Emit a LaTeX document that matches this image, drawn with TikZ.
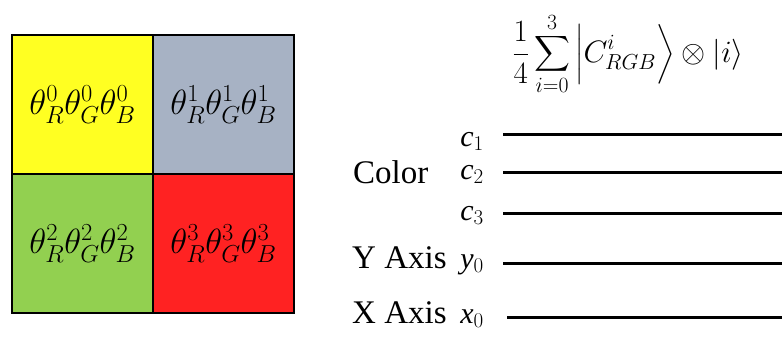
\RequirePackage{fix-cm}
\documentclass[tikz,border=0pt]{standalone}
\usepackage{fontspec}
\setmainfont{Liberation Serif}
\usepackage{amsmath}
\usetikzlibrary{positioning}
\definecolor{cellyellow}{RGB}{255,255,34}
\definecolor{cellgray}{RGB}{167,178,196}
\definecolor{cellgreen}{RGB}{146,208,80}
\definecolor{cellred}{RGB}{255,34,34}

\begin{document}
\begin{tikzpicture}[x=1pt,y=-1pt,
  cell/.style={draw=black,line width=1.6pt,outer sep=0pt,inner sep=0pt,
    minimum width=141pt,minimum height=139pt,font=\fontsize{35}{40}\selectfont},
  wire/.style={line width=3pt},
  qlbl/.style={anchor=base east,inner sep=0pt,font=\fontsize{30}{34}\selectfont},
  reglbl/.style={anchor=base west,inner sep=0pt,font=\fontsize{33}{40}\selectfont}]
\useasboundingbox (0,0) rectangle (782,338);
% colour grid
\node[cell,fill=cellyellow,anchor=north west] (q0) at (12,35) {$\theta_R^0\theta_G^0\theta_B^0$};
\node[cell,fill=cellgray,right=0pt of q0] (q1) {$\theta_R^1\theta_G^1\theta_B^1$};
\node[cell,fill=cellgreen,below=0pt of q0] (q2) {$\theta_R^2\theta_G^2\theta_B^2$};
\node[cell,fill=cellred,below=0pt of q1] (q3) {$\theta_R^3\theta_G^3\theta_B^3$};
% state
\node[font=\fontsize{31}{36}\selectfont] (state) at (628,54)
  {$\displaystyle\frac{1}{4}\sum_{i=0}^{3}\Big|C_{RGB}^{i}\Big\rangle\otimes|i\rangle$};
% register labels
\node[reglbl] (color) at (353,183) {Color};
\node[reglbl] (yaxis) at (352,268) {Y Axis};
\node[reglbl] (xaxis) at (352,323) {X Axis};
% qubit wires
\foreach \n/\t/\k/\b/\y/\x in {c1/c/1/146/134/503,c2/c/2/179/172/503,c3/c/3/220/213/503,y0/y/0/268/263/503,x0/x/0/323/317/507}{
  \node[qlbl] (l\n) at (484,\b) {\textit{\t}$_{\k}$};
  \coordinate (w\n) at (\x,\y);
  \coordinate (e\n) at (782,\y);
  \draw[wire] (w\n) -- (e\n);
}
\end{tikzpicture}
\end{document}
